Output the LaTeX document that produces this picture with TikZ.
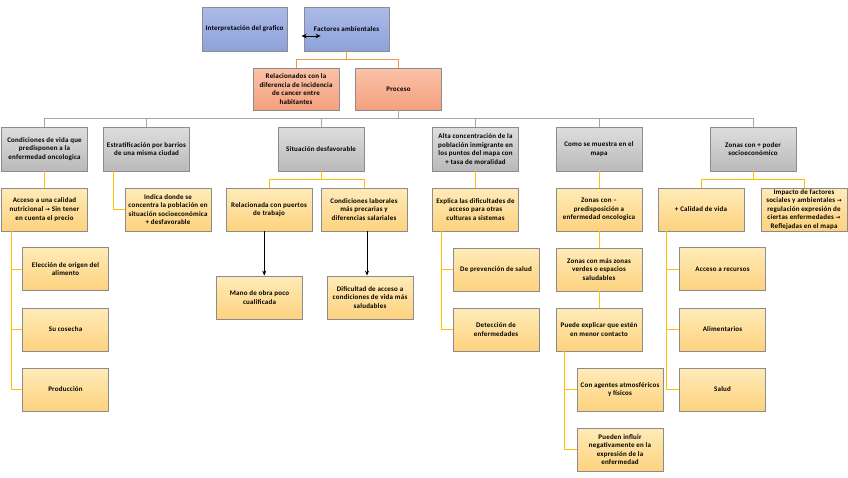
\documentclass[tikz,border=0pt]{standalone}
\usepackage{fontspec}
\setmainfont{Carlito}[LetterSpace=3]
\newfontfamily\dejavu{DejaVu Sans}
\usetikzlibrary{arrows.meta,calc}
\newcommand{\arr}{{\dejavu\fontsize{5.8}{7}\selectfont →}}
\definecolor{bordergray}{HTML}{8C8C8C}
\definecolor{ylwtop}{HTML}{FFEBB8}
\definecolor{ylwbot}{HTML}{FDD27E}
\definecolor{grytop}{HTML}{DEDEDE}
\definecolor{grybot}{HTML}{B9B9B9}
\definecolor{blutop}{HTML}{ABBBE8}
\definecolor{blubot}{HTML}{8EA2DA}
\definecolor{orgtop}{HTML}{FAC3A8}
\definecolor{orgbot}{HTML}{F4A07E}
\definecolor{ylwline}{HTML}{FFC000}
\definecolor{orgline}{HTML}{F79646}
\definecolor{gryline}{HTML}{A6A6A6}
\tikzset{
  boxbase/.style={draw=bordergray, line width=0.8pt, minimum width=86pt, minimum height=43pt,
    inner sep=0.5pt, align=center, font=\bfseries\fontsize{7}{8.6}\selectfont},
  ybox/.style={boxbase, top color=ylwtop, bottom color=ylwbot},
  gbox/.style={boxbase, top color=grytop, bottom color=grybot, minimum height=44pt},
  bbox/.style={boxbase, top color=blutop, bottom color=blubot, minimum height=44pt, minimum width=85pt},
  obox/.style={boxbase, top color=orgtop, bottom color=orgbot, minimum height=42pt},
  yline/.style={draw=ylwline, line width=1pt},
  oline/.style={draw=orgline, line width=1pt},
  gline/.style={draw=gryline, line width=1pt},
  blkarrow/.style={draw=black, line width=1pt, -{Stealth[length=5pt,width=4pt]}}
}
\begin{document}
\begin{tikzpicture}[x=1pt,y=-1pt]
\useasboundingbox (0,0) rectangle (848,477);
% top
\node[bbox] (interp) at (244.5,29) {Interpretación del grafico};
\node[bbox] (factores) at (346.5,29) {Factores ambientales};
\node[obox] (relac) at (296,89) {Relacionados con la\\diferencia de incidencia\\de cancer entre\\habitantes};
\node[obox] (proceso) at (398.5,89) {Proceso};
% gray row
\node[gbox] (g1) at (44.5,149) {Condiciones de vida que\\predisponen a la\\enfermedad oncologica};
\node[gbox] (g2) at (146.5,149) {Estratificación por barrios\\de una misma ciudad};
\node[gbox] (g3) at (321,149) {Situación desfavorable};
\node[gbox] (g4) at (475.5,149) {Alta concentración de la\\población inmigrante en\\los puntos del mapa con\\+ tasa de moralidad};
\node[gbox] (g5) at (599,149) {Como se muestra en el\\mapa};
\node[gbox] (g6) at (753,149) {Zonas con + poder\\socioeconómico};
% column 1
\node[ybox] (a1) at (44.5,209.5) {Acceso a una calidad\\nutricional \arr{} Sin tener\\en cuenta el precio};
\node[ybox] (a2) at (65.5,269) {Elección de origen del\\alimento};
\node[ybox] (a3) at (65.5,329.5) {Su cosecha};
\node[ybox] (a4) at (65.5,389.5) {Producción};
% column 2
\node[ybox] (b1) at (168,209.5) {Indica donde se\\concentra la población en\\situación socioeconómica\\+ desfavorable};
% column 3
\node[ybox] (c1) at (269,209.5) {Relacionada con puertos\\de trabajo};
\node[ybox] (c2) at (364,209.5) {Condiciones laborales\\más precarias y\\diferencias salariales};
\node[ybox] (c3) at (259.5,297.5) {Mano de obra poco\\cualificada};
\node[ybox] (c4) at (370,297.5) {Dificultad de acceso a\\condiciones de vida más\\saludables};
% column 4
\node[ybox] (d1) at (475.5,209.5) {Explica las dificultades de\\acceso para otras\\culturas a sistemas};
\node[ybox] (d2) at (496,269.5) {De prevención de salud};
\node[ybox] (d3) at (496,329.5) {Detección de\\enfermedades};
% column 5
\node[ybox] (e1) at (599,209.5) {Zonas con --\\predisposición a\\enfermedad oncologica};
\node[ybox] (e2) at (599,269.5) {Zonas con más zonas\\verdes o espacios\\saludables};
\node[ybox] (e3) at (599,329.5) {Puede explicar que estén\\en menor contacto};
\node[ybox] (e4) at (620,389.5) {Con agentes atmosféricos\\y físicos};
\node[ybox] (e5) at (620,449.5) {Pueden influir\\negativamente en la\\expresión de la\\enfermedad};
% column 6
\node[ybox] (f1) at (701,209.5) {+ Calidad de vida};
\node[ybox] (f2) at (804,209.5) {Impacto de factores\\sociales y ambientales \arr\\regulación expresión de\\ciertas enfermedades \arr\\Reflejadas en el mapa};
\node[ybox] (f3) at (722.5,269) {Acceso a recursos};
\node[ybox] (f4) at (722.5,329.5) {Alimentarios};
\node[ybox] (f5) at (722.5,389.5) {Salud};
% connectors top
\coordinate (dl) at ($(factores.west)+(-2,7)$);
\coordinate (dr) at ($(factores.west)+(17,7)$);
\draw[line width=1pt, {Stealth[length=5pt,width=4.5pt]}-{Stealth[length=5pt,width=4.5pt]}] (dl) -- (dr);
\draw[oline] (factores.south) -- ++(0,8) -| (relac.north);
\draw[oline] (factores.south) -- ++(0,8) -| (proceso.north);
\foreach \g in {g1,g2,g3,g4,g5,g6}{
  \draw[gline] (proceso.south) -- ++(0,8) -| (\g.north);
}
% column 1
\draw[yline] (g1.south) -- (a1.north);
\foreach \n in {a2,a3,a4}{\draw[yline] ($(a1.south west)+(10,0)$) |- (\n.west);}
% column 2
\draw[yline] ($(g2.south west)+(10,0)$) |- (b1.west);
% column 3
\draw[yline] (g3.south) -- ++(0,8) -| (c1.north);
\draw[yline] (g3.south) -- ++(0,8) -| (c2.north);
\path (c1.south) -- (c3.north) coordinate[pos=0.5] (m1);
\path (c2.south) -- (c4.north) coordinate[pos=0.5] (m2);
\draw[blkarrow] (c1.south -| m1) -- (c3.north -| m1);
\draw[blkarrow] (c2.south -| m2) -- (c4.north -| m2);
% column 4
\draw[yline] (g4.south) -- (d1.north);
\foreach \n in {d2,d3}{\draw[yline] ($(d1.south west)+(9,0)$) |- (\n.west);}
% column 5
\draw[yline] (g5.south) -- (e1.north);
\draw[yline] (e1.south) -- (e2.north);
\draw[yline] (e2.south) -- (e3.north);
\foreach \n in {e4,e5}{\draw[yline] ($(e3.south west)+(9,0)$) |- (\n.west);}
% column 6
\draw[yline] (g6.south) -- ++(0,8) -| (f1.north);
\draw[yline] (g6.south) -- ++(0,8) -| (f2.north);
\foreach \n in {f3,f4,f5}{\draw[yline] ($(f1.south west)+(9,0)$) |- (\n.west);}
\end{tikzpicture}
\end{document}
